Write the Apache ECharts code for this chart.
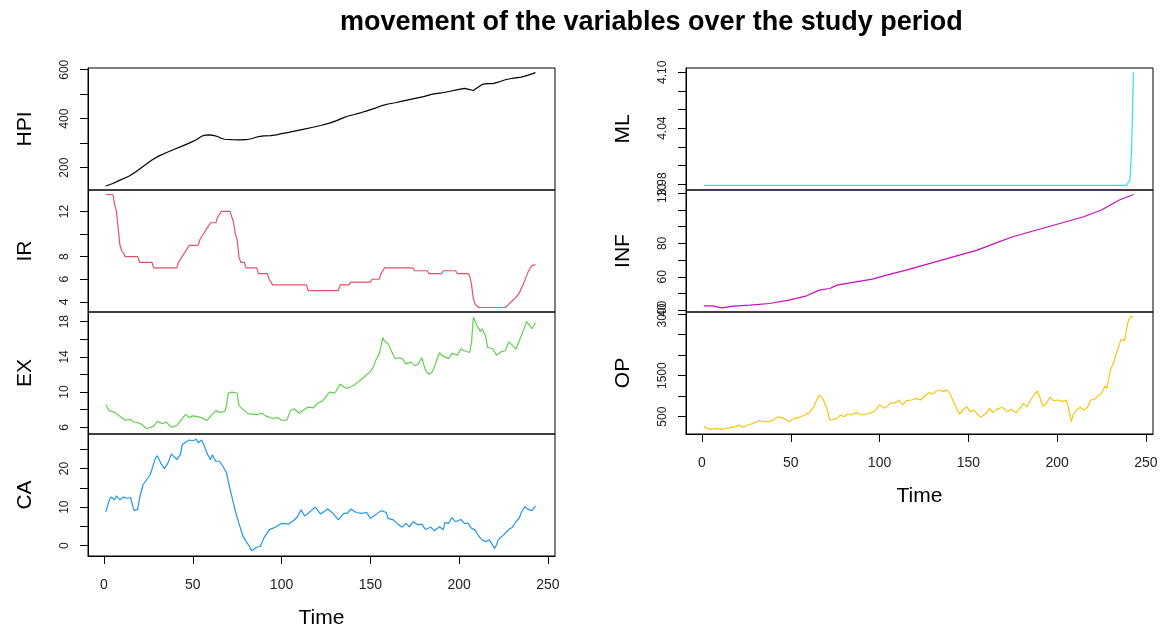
<!DOCTYPE html>
<html>
<head>
<meta charset="utf-8">
<script src="https://cdn.jsdelivr.net/npm/echarts@6/dist/echarts.min.js"></script>
<style>
  html, body { margin: 0; padding: 0; background: #fff; }
  #chart { width: 1163px; height: 630px; }
</style>
</head>
<body>
<div id="chart"></div>
<script>
// Monthly series, [time, value] readings
const HPI = [[1,125],[5,135],[9,149],[14,165],[18,183],[22,205],[27,231],[31,248],[35,261],[40,276],[44,288],[48,300],[52,314],[55,328],[57,333],[60,334],[62,331],[64,327],[66,320],[68,316],[72,314],[76,313],[80,314],[83,318],[87,327],[90,330],[94,331],[97,334],[100,339],[104,344],[108,350],[112,356],[117,364],[122,372],[127,382],[131,392],[134,401],[137,410],[141,417],[145,425],[148,432],[152,441],[156,452],[160,460],[164,465],[168,472],[172,478],[176,484],[180,490],[185,500],[190,505],[195,512],[200,520],[203,524],[206,519],[208,515],[210,525],[213,540],[216,543],[219,543],[222,549],[226,559],[230,565],[235,570],[239,578],[243,588]];

const IR = [[1,13.5],[5,13.5],[6,12.6],[7,12.0],[8,10.5],[9,9.0],[10,8.5],[11,8.3],[12,8.0],[19,8.0],[20,7.5],[27,7.5],[28,7.0],[41,7.0],[42,7.5],[44,8.0],[46,8.5],[48,9.0],[53,9.0],[54,9.5],[56,10.0],[58,10.5],[60,11.0],[63,11.0],[64,11.5],[66,12.0],[71,12.0],[72,11.5],[73,11.0],[74,10.0],[75,9.5],[76,8.0],[77,7.5],[79,7.5],[80,7.0],[86,7.0],[87,6.5],[92,6.5],[93,6.0],[94,5.75],[95,5.5],[114,5.5],[115,5.0],[132,5.0],[133,5.5],[138,5.5],[139,5.75],[150,5.75],[151,6.0],[155,6.0],[156,6.5],[158,7.0],[174,7.0],[175,6.75],[182,6.75],[183,6.5],[190,6.5],[191,6.75],[198,6.75],[199,6.5],[205,6.5],[206,6.3],[207,5.5],[208,4.3],[209,3.8],[211,3.5],[226,3.5],[228,3.8],[230,4.1],[232,4.4],[233,4.6],[234,4.8],[235,5.2],[236,5.5],[237,5.9],[238,6.3],[239,6.7],[240,7.0],[241,7.2],[242,7.3],[243,7.3]];

const EX = [[1,8.57],[3,7.9],[6,7.7],[9,7.24],[12,6.8],[15,6.9],[17,6.6],[20,6.48],[22,6.2],[24,5.84],[26,6.0],[28,6.1],[30,6.67],[33,6.4],[35,6.6],[38,6.0],[41,6.2],[44,6.98],[46,7.47],[48,7.1],[50,7.3],[52,7.24],[55,7.1],[58,6.78],[60,7.24],[63,7.9],[65,7.7],[68,7.8],[69,8.5],[70,9.9],[72,10.0],[75,9.9],[76,8.5],[78,8.1],[81,7.55],[84,7.5],[86,7.45],[89,7.6],[91,7.3],[95,7.0],[98,7.1],[100,6.8],[103,6.8],[105,7.9],[107,8.1],[110,7.6],[112,7.9],[115,8.3],[118,8.2],[120,8.7],[123,9.0],[125,9.5],[127,10.0],[130,9.9],[133,10.9],[135,10.6],[137,10.4],[141,10.8],[144,11.3],[146,11.6],[148,12.0],[150,12.3],[152,13.0],[153,13.6],[155,14.4],[156,15.2],[157,16.2],[158,15.8],[160,15.5],[161,15.1],[162,14.6],[164,13.8],[166,13.9],[168,13.8],[170,13.2],[171,13.0],[173,13.4],[175,13.0],[177,13.2],[178,13.4],[179,13.9],[180,13.2],[181,12.5],[183,12.0],[185,12.3],[187,13.4],[189,14.5],[190,14.2],[192,14.0],[194,13.8],[196,14.4],[199,14.2],[201,14.9],[203,14.7],[206,14.5],[207,15.7],[208,18.5],[210,17.6],[212,16.9],[213,17.2],[215,16.3],[216,15.1],[219,14.9],[221,14.2],[222,14.0],[224,14.6],[226,14.7],[228,15.7],[230,15.3],[232,14.9],[234,15.9],[236,16.9],[238,18.0],[240,17.5],[241,17.2],[243,17.9]];

const CA = [[1,8.8],[2,9.2],[3,11.9],[4,12.6],[6,11.9],[7,12.9],[9,11.9],[11,12.6],[13,12.3],[15,12.5],[16,10.6],[17,9.1],[19,9.4],[20,12.3],[22,15.8],[24,17.1],[26,18.4],[27,19.8],[29,22.7],[30,23.3],[32,21.4],[34,20.0],[36,21.4],[38,23.8],[41,22.3],[43,23.6],[44,26.1],[46,26.9],[48,27.4],[50,27.2],[52,27.6],[53,26.7],[55,27.4],[57,25.3],[58,24.0],[60,22.3],[61,23.6],[63,21.9],[65,21.9],[67,20.6],[69,18.9],[70,16.7],[72,12.8],[74,8.9],[76,5.8],[78,2.8],[80,1.1],[82,-0.2],[83,-1.3],[86,-0.4],[88,-0.2],[90,1.9],[93,4.1],[97,4.9],[100,5.8],[102,5.7],[104,5.6],[107,6.6],[109,7.5],[111,9.3],[113,7.7],[115,8.4],[119,10.0],[122,8.2],[126,9.5],[129,8.4],[132,6.7],[135,8.4],[137,8.4],[139,9.5],[142,8.6],[145,8.4],[148,8.6],[150,7.1],[153,8.0],[156,9.1],[159,8.6],[160,7.1],[163,6.7],[166,5.4],[168,4.8],[170,5.8],[172,4.9],[174,6.2],[177,5.4],[179,5.6],[181,4.2],[184,4.8],[186,3.9],[189,4.9],[191,4.1],[192,6.0],[194,5.8],[196,7.3],[198,6.2],[201,6.8],[203,5.8],[205,5.8],[207,4.5],[209,4.1],[211,2.5],[213,1.5],[215,1.1],[217,1.5],[218,1.1],[220,-0.7],[221,0.2],[222,1.5],[225,2.8],[228,4.2],[230,4.8],[232,6.2],[234,7.3],[235,8.6],[237,10.1],[239,9.4],[241,9.1],[243,10.3]];

const ML = [[1,3.9785],[239,3.9785],[240,3.979],[241,3.984],[242,4.02],[243,4.0999]];

const INF = [[1,42.6],[6,42.6],[11,41.4],[18,42.4],[27,43.0],[38,44.0],[49,46.0],[59,48.6],[66,52.0],[72,53.0],[76,55.0],[85,56.6],[96,58.6],[104,61.0],[115,64.0],[125,67.0],[135,70.0],[145,73.0],[155,76.0],[165,80.0],[175,84.0],[185,87.0],[195,90.0],[205,93.0],[215,96.0],[225,100.0],[235,106.0],[243,109.3]];

const OP = [[1,256],[3,215],[5,190],[8,215],[11,190],[14,215],[17,240],[19,256],[21,297],[23,240],[26,297],[29,337],[32,402],[35,378],[38,378],[40,419],[43,500],[46,459],[49,378],[52,459],[55,484],[58,541],[61,622],[63,744],[65,947],[66,1028],[68,947],[70,744],[72,419],[74,435],[76,459],[78,541],[80,500],[82,565],[84,541],[87,598],[90,541],[93,565],[97,622],[100,785],[103,703],[106,825],[109,841],[111,907],[113,785],[115,890],[118,907],[121,947],[123,907],[126,1028],[128,1085],[130,1053],[132,1126],[134,1150],[136,1110],[138,1150],[140,1028],[142,825],[145,565],[147,663],[149,744],[151,622],[153,663],[155,565],[157,484],[160,581],[162,703],[164,598],[166,679],[169,728],[172,622],[174,679],[177,598],[179,703],[181,825],[183,744],[185,907],[187,1028],[189,1126],[190,1004],[192,760],[194,825],[196,972],[198,890],[201,907],[203,866],[205,907],[206,785],[208,378],[209,541],[211,663],[213,728],[215,663],[217,728],[219,907],[221,923],[223,1004],[225,1069],[227,1248],[228,1191],[230,1638],[232,1841],[234,2126],[236,2386],[238,2354],[239,2614],[240,2817],[241,2923],[243,2939]];

// Axis tick marks and the subset of ticks that carry a label
const TIME_TICKS = [0, 50, 100, 150, 200, 250];
const HPI_TICKS = [200, 300, 400, 500, 600],      HPI_LABELS = [200, 400, 600];
const IR_TICKS  = [4, 6, 8, 10, 12],              IR_LABELS  = [4, 6, 8, 12];
const EX_TICKS  = [6, 8, 10, 12, 14, 16, 18],     EX_LABELS  = [6, 10, 14, 18];
const CA_TICKS  = [0, 5, 10, 15, 20, 25],         CA_LABELS  = [0, 10, 20];
const ML_TICKS  = [3.98, 4.00, 4.02, 4.04, 4.06, 4.08, 4.10], ML_LABELS = [3.98, 4.04, 4.10];
const INF_TICKS = [40, 50, 60, 70, 80, 90, 100, 110], INF_LABELS = [40, 60, 80, 110];
const OP_TICKS  = [500, 1000, 1500, 2000, 2500, 3000], OP_LABELS = [500, 1500, 3000];

const FONT = '"Liberation Sans", Arial, Helvetica, sans-serif';

// Panel layout: two columns of stacked panels sharing the time axis
const panels = [
  { name: 'HPI', data: HPI, color: '#000000', left: 88,  top: 68,  yMin: 108.6, yMax: 607,    ticks: HPI_TICKS, labels: HPI_LABELS, fmt: v => String(v), bottom: false },
  { name: 'IR',  data: IR,  color: '#DF536B', left: 88,  top: 190, yMin: 3.1,   yMax: 13.9,   ticks: IR_TICKS,  labels: IR_LABELS,  fmt: v => String(v), bottom: false },
  { name: 'EX',  data: EX,  color: '#61D04F', left: 88,  top: 312, yMin: 5.24,  yMax: 19.1,   ticks: EX_TICKS,  labels: EX_LABELS,  fmt: v => String(v), bottom: false },
  { name: 'CA',  data: CA,  color: '#2297E6', left: 88,  top: 434, yMin: -2.67, yMax: 28.96,  ticks: CA_TICKS,  labels: CA_LABELS,  fmt: v => String(v), bottom: true },
  { name: 'ML',  data: ML,  color: '#28E2E5', left: 686, top: 68,  yMin: 3.9735,yMax: 4.1047, ticks: ML_TICKS,  labels: ML_LABELS,  fmt: v => v.toFixed(2), bottom: false },
  { name: 'INF', data: INF, color: '#CD0BBC', left: 686, top: 190, yMin: 38.9,  yMax: 112,    ticks: INF_TICKS, labels: INF_LABELS, fmt: v => String(v), bottom: false },
  { name: 'OP',  data: OP,  color: '#F5C710', left: 686, top: 312, yMin: 77,    yMax: 3053,   ticks: OP_TICKS,  labels: OP_LABELS,  fmt: v => String(v), bottom: true }
];

const PANEL_W = 467, PANEL_H = 122;

const grid = [], xAxis = [], yAxis = [], series = [];
panels.forEach((p, i) => {
  grid.push({
    left: p.left, top: p.top, width: PANEL_W, height: PANEL_H,
    show: true, borderColor: '#000', borderWidth: 1, backgroundColor: 'transparent'
  });
  xAxis.push({
    gridIndex: i, type: 'value', min: -9, max: 254, position: 'bottom',
    show: p.bottom,
    axisLine: { show: true, onZero: false, lineStyle: { color: '#000', width: 1 } },
    axisTick: { show: true, length: 8, customValues: TIME_TICKS, lineStyle: { color: '#000' } },
    axisLabel: { show: true, customValues: TIME_TICKS, margin: 22, fontSize: 14, color: '#222', fontFamily: FONT },
    splitLine: { show: false },
    name: p.bottom ? 'Time' : '', nameLocation: 'middle', nameGap: 52,
    nameTextStyle: { fontSize: 21, color: '#000', fontFamily: FONT }
  });
  yAxis.push({
    gridIndex: i, type: 'value', min: p.yMin, max: p.yMax, position: 'left',
    axisLine: { show: true, onZero: false, lineStyle: { color: '#000', width: 1 } },
    axisTick: { show: true, length: 8, customValues: p.ticks, lineStyle: { color: '#000' } },
    axisLabel: {
      show: true, customValues: p.labels, rotate: 90, margin: 17,
      fontSize: 12, color: '#222', fontFamily: FONT, formatter: p.fmt
    },
    splitLine: { show: false },
    name: p.name, nameLocation: 'middle', nameGap: 52,
    nameTextStyle: { fontSize: 21, color: '#000', fontFamily: FONT }
  });
  series.push({
    type: 'line', xAxisIndex: i, yAxisIndex: i, data: p.data,
    showSymbol: false, symbol: 'none', smooth: false,
    lineStyle: { color: p.color, width: 1.2 },
    itemStyle: { color: p.color },
    animation: false, silent: true
  });
});

const chart = echarts.init(document.getElementById('chart'), null, { renderer: 'canvas' });
chart.setOption({
  backgroundColor: '#fff',
  animation: false,
  title: {
    text: 'movement of the variables over the study period',
    left: 335, top: 4,
    textStyle: { fontSize: 27, fontWeight: 'bold', color: '#000', fontFamily: FONT }
  },
  grid, xAxis, yAxis, series
});
</script>
</body>
</html>
